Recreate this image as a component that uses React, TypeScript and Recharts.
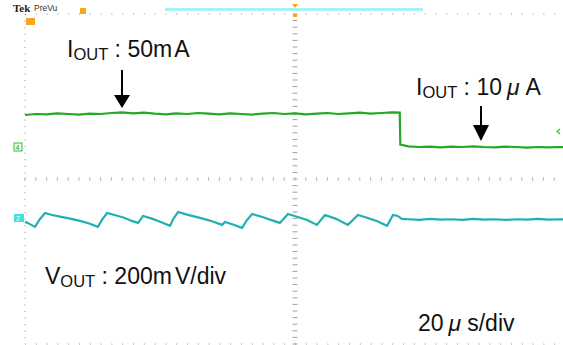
import React from 'react';
import { LineChart, Line, XAxis, YAxis, CartesianGrid, ReferenceLine } from 'recharts';

// scope: 20us/div horizontally (10 div), y in divisions (0 = bottom of screen)
const MAJOR_T = [0, 20, 40, 60, 80, 100, 120, 140, 160, 180, 200];
const MAJOR_V = [0, 1, 2, 3, 4, 5, 6, 7, 8, 9, 10];
const MINOR_T = Array.from({ length: 51 }, (_, i) => i * 4);
const MINOR_V = Array.from({ length: 51 }, (_, i) => +(i * 0.2).toFixed(1));

// green trace (load current) - step at ~139us
const greenTime = [
    0, 4, 8, 12, 16, 20, 24, 28, 32, 36, 40, 44, 48, 52, 56, 60, 64, 68, 72, 76,
    80, 84, 88, 92, 96, 100, 104, 108, 112, 116, 120, 124, 128, 132, 136, 138.8,
    139, 142, 146, 150, 154, 158, 162, 166, 170, 174, 178, 182, 186, 190, 194, 198, 200,
];
const greenValue = [
    6.94, 6.97, 6.96, 6.99, 6.97, 6.95, 6.98, 6.97, 7.0, 7.02, 6.99, 7.01, 6.98, 6.96, 6.99, 6.97, 7.0, 6.98, 6.96, 6.99,
    6.97, 6.95, 6.98, 7.0, 6.97, 6.99, 6.96, 6.98, 7.0, 6.97, 6.99, 7.01, 6.98, 7.0, 7.02, 7.01,
    6.04, 5.99, 5.97, 5.98, 5.96, 5.98, 5.97, 5.99, 5.97, 5.96, 5.98, 5.97, 5.95, 5.97, 5.96, 5.97, 5.96,
];

// cyan trace (VOUT ripple)
const cyanTime = [
    0, 1, 3.7, 5.5, 7.4, 10, 13, 16.7, 20, 23.5, 27, 28.5, 30.4, 33.5, 37, 39.5, 41.9, 43.7, 47, 50.5,
    53.7, 55, 56.7, 60, 64.8, 68.5, 73, 74.1, 77, 80.4, 82, 84.1, 88, 91, 94.4, 97.4, 101, 104.5, 108.1, 111.1,
    115, 119.6, 123.3, 127, 130.5, 134.1, 136.3, 138, 139.6, 142, 146, 150, 154, 158, 162, 166, 170, 174, 178,
    182, 186, 190, 194, 198, 200,
];
const cyanValue = [
    3.7, 3.67, 3.55, 3.78, 3.97, 3.91, 3.86, 3.8, 3.74, 3.66, 3.55, 3.76, 3.97, 3.9, 3.82, 3.73, 3.67, 3.88, 3.8, 3.69,
    3.58, 3.8, 4.0, 3.92, 3.82, 3.74, 3.61, 3.7, 3.62, 3.52, 3.73, 3.94, 3.85, 3.76, 3.67, 3.94, 3.85, 3.76, 3.61, 3.91,
    3.8, 3.61, 3.91, 3.82, 3.72, 3.58, 3.91, 3.88, 3.79, 3.78, 3.76, 3.79, 3.77, 3.78, 3.76, 3.79, 3.77, 3.78, 3.76,
    3.78, 3.77, 3.79, 3.77, 3.78, 3.77,
];

const greenData = greenTime.map((t, i) => ({ t, v: greenValue[i] }));
const cyanData = cyanTime.map((t, i) => ({ t, v: cyanValue[i] }));

const FONT = '"Liberation Sans", Arial, sans-serif';

const Annotations = () => (
    <svg width={563} height={345} style={{ position: 'absolute', left: 0, top: 0, pointerEvents: 'none' }}>
        {/* scope header */}
        <text x={13} y={12} fontFamily='"Liberation Serif", serif' fontWeight="bold" fontSize={11} fill="#222">Tek</text>
        <text x={34} y={11} fontFamily={FONT} fontSize={8.5} fill="#333">PreVu</text>
        <rect x={165} y={8} width={258} height={3} fill="#a6f2f2" />
        <rect x={80} y={8} width={6} height={6} fill="#f5a623" />
        <polygon points="292,4 298,4 295,8" fill="#f5a623" />
        <rect x={293} y={14} width={4} height={3} fill="#f5a623" />
        <rect x={26} y={18} width={9} height={7} fill="#f5a623" />
        {/* channel markers */}
        <rect x={14} y={143} width={8} height={8} fill="#e8ffe8" stroke="#3cb83c" strokeWidth={1} />
        <text x={15.5} y={150} fontFamily={FONT} fontSize={7} fill="#2a9a2a">4</text>
        <rect x={14} y={214} width={10} height={8} fill="#3fe0e0" />
        <text x={16} y={221} fontFamily={FONT} fontSize={7} fill="#fff">2</text>
        <polyline points="560,129 557,131.5 560,134" fill="none" stroke="#3cb83c" strokeWidth={1.2} />
        {/* arrows */}
        <line x1={122} y1={70} x2={122} y2={96} stroke="#000" strokeWidth={2} />
        <polygon points="114,95 130,95 122,108" fill="#000" />
        <line x1={481} y1={106} x2={481} y2={126} stroke="#000" strokeWidth={2} />
        <polygon points="473,125 489,125 481,141" fill="#000" />
        {/* labels */}
        <text x={67} y={57} fontFamily={FONT} fontSize={23} fill="#111">
            I<tspan fontSize={16.5} dy={3}>OUT</tspan>
            <tspan dy={-3}> : 50m</tspan>
            <tspan dx={2}>A</tspan>
        </text>
        <text x={416} y={95} fontFamily={FONT} fontSize={23} fill="#111">
            I<tspan fontSize={16.5} dy={3}>OUT</tspan>
            <tspan dy={-3}> : 10</tspan>
            <tspan dx={5} fontStyle="italic">μ</tspan>
            <tspan dx={6}>A</tspan>
        </text>
        <text x={45} y={284} fontFamily={FONT} fontSize={23} fill="#111">
            V<tspan fontSize={16.5} dy={3}>OUT</tspan>
            <tspan dy={-3}> : 200m</tspan>
            <tspan dx={3}>V/div</tspan>
        </text>
        <text x={418} y={331} fontFamily={FONT} fontSize={23} fill="#111">
            20<tspan dx={5} fontStyle="italic">μ</tspan>
            <tspan dx={6}>s/div</tspan>
        </text>
    </svg>
);

export default function App() {
    return (
        <div style={{ position: 'absolute', left: 0, top: 0, width: 563, height: 345, overflow: 'hidden', background: '#fff' }}>
            <LineChart width={565} height={345} margin={{ top: 14, right: 0, left: 25, bottom: 1 }}>
                <XAxis
                    type="number"
                    dataKey="t"
                    domain={[0, 200]}
                    ticks={MAJOR_T}
                    tick={false}
                    tickLine={false}
                    axisLine={false}
                    orientation="top"
                    height={0}
                />
                <YAxis
                    type="number"
                    dataKey="v"
                    domain={[0, 10]}
                    ticks={MAJOR_V}
                    tick={false}
                    tickLine={false}
                    axisLine={false}
                    width={0}
                />
                <XAxis
                    xAxisId="minor"
                    type="number"
                    domain={[0, 200]}
                    ticks={MINOR_T}
                    interval={0}
                    orientation="top"
                    mirror
                    height={0}
                    tick={false}
                    tickSize={3}
                    tickLine={{ stroke: '#777' }}
                    axisLine={{ stroke: '#555', strokeWidth: 2 }}
                />
                <YAxis
                    yAxisId="minor"
                    type="number"
                    domain={[0, 10]}
                    ticks={MINOR_V}
                    interval={0}
                    mirror
                    width={0}
                    tick={false}
                    tickSize={3}
                    tickLine={{ stroke: '#888' }}
                    axisLine={{ stroke: '#8a8a8a', strokeWidth: 2 }}
                />
                <CartesianGrid vertical={false} stroke="#8f8f8f" strokeDasharray="1 9.8" />
                <CartesianGrid horizontal={false} stroke="#8f8f8f" strokeDasharray="1 5.6" />
                {MINOR_V.map((v) => (
                    <ReferenceLine
                        key={`cv${v}`}
                        segment={[{ x: 99.1, y: v }, { x: 100.9, y: v }]}
                        stroke="#a0a0a0"
                    />
                ))}
                {MINOR_T.map((t) => (
                    <ReferenceLine
                        key={`ch${t}`}
                        segment={[{ x: t, y: 4.94 }, { x: t, y: 5.06 }]}
                        stroke="#b8b8b8"
                    />
                ))}
                <Line
                    data={greenData}
                    dataKey="v"
                    type="linear"
                    stroke="#22aa22"
                    strokeWidth={2.2}
                    dot={false}
                    isAnimationActive={false}
                />
                <Line
                    data={cyanData}
                    dataKey="v"
                    type="linear"
                    stroke="#1fb0b0"
                    strokeWidth={2.2}
                    dot={false}
                    isAnimationActive={false}
                />
            </LineChart>
            <Annotations />
        </div>
    );
}
